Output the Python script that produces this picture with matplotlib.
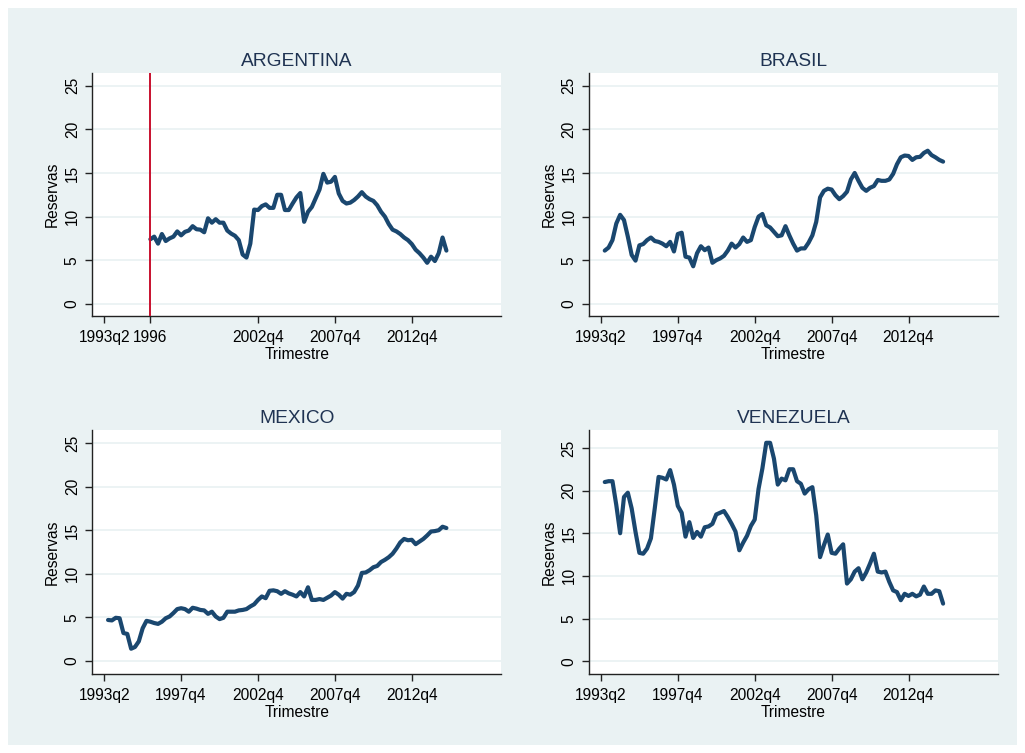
import numpy as np
import matplotlib.pyplot as plt
from matplotlib.patches import Rectangle

plt.rcParams['font.family'] = ['Liberation Sans', 'DejaVu Sans']

# Reservas por trimestre (trimestre 1 = primero despues de 1993q2)
argentina = [7.4, 7.7, 6.9, 8.0, 7.2, 7.5, 7.7, 8.3, 7.85, 8.25,
             8.4, 8.9, 8.55, 8.5, 8.2, 9.8, 9.3, 9.7, 9.3, 9.3,
             8.4, 8.05, 7.8, 7.3, 5.65, 5.3, 6.9, 10.8, 10.75, 11.2,
             11.4, 11.0, 11.0, 12.5, 12.5, 10.75, 10.75, 11.5, 12.2, 12.7,
             9.4, 10.55, 11.1, 12.1, 13.1, 14.9, 13.9, 14.0, 14.55, 12.65,
             11.8, 11.5, 11.6, 11.9, 12.3, 12.8, 12.3, 12.0, 11.8, 11.3,
             10.55, 10.0, 9.15, 8.5, 8.3, 8.0, 7.6, 7.3, 6.85, 6.2,
             5.8, 5.3, 4.7, 5.4, 4.9, 5.8, 7.6, 6.1]
argentina_ini = 12   # 1996

brasil = [6.1, 6.45, 7.3, 9.2, 10.2, 9.6, 7.7, 5.6, 4.95, 6.7,
          6.85, 7.3, 7.6, 7.2, 7.1, 6.9, 6.6, 7.1, 6.0, 8.0,
          8.15, 5.4, 5.3, 4.3, 5.8, 6.6, 6.15, 6.45, 4.7, 5.0,
          5.2, 5.5, 6.1, 6.9, 6.45, 6.85, 7.6, 7.1, 7.3, 8.8,
          10.0, 10.3, 9.0, 8.75, 8.25, 7.75, 7.85, 8.9, 7.85, 6.9,
          6.1, 6.35, 6.35, 7.0, 7.85, 9.4, 12.2, 12.95, 13.2, 13.1,
          12.45, 12.0, 12.35, 12.85, 14.25, 15.0, 14.1, 13.3, 12.95, 13.3,
          13.5, 14.2, 14.1, 14.1, 14.25, 14.9, 16.0, 16.8, 17.0, 16.95,
          16.5, 16.8, 16.85, 17.3, 17.55, 17.05, 16.8, 16.5, 16.3]

mexico = [4.7, 4.65, 4.95, 4.9, 3.2, 3.1, 1.4, 1.6, 2.25, 3.75,
          4.6, 4.5, 4.35, 4.25, 4.5, 4.9, 5.1, 5.5, 5.95, 6.05,
          5.95, 5.65, 6.1, 6.0, 5.85, 5.8, 5.4, 5.65, 5.1, 4.8,
          4.95, 5.65, 5.65, 5.65, 5.8, 5.85, 5.95, 6.25, 6.5, 7.0,
          7.4, 7.2, 8.05, 8.1, 8.0, 7.7, 8.0, 7.75, 7.6, 7.4,
          7.9, 7.4, 8.45, 7.0, 7.0, 7.1, 7.0, 7.25, 7.5, 7.9,
          7.6, 7.15, 7.7, 7.6, 7.9, 8.65, 10.1, 10.15, 10.4, 10.75,
          10.9, 11.35, 11.6, 11.9, 12.3, 12.9, 13.6, 14.0, 13.85, 13.9,
          13.4, 13.7, 14.0, 14.4, 14.85, 14.9, 15.0, 15.4, 15.25]

venezuela = [21.0, 21.1, 21.1, 18.3, 15.0, 19.25, 19.75, 17.9, 15.15, 12.7,
             12.6, 13.2, 14.4, 17.9, 21.6, 21.5, 21.3, 22.4, 20.7, 18.2,
             17.4, 14.6, 16.3, 14.45, 15.15, 14.6, 15.7, 15.8, 16.1, 17.2,
             17.4, 17.6, 16.9, 16.1, 15.2, 13.0, 13.9, 14.7, 15.85, 16.6,
             20.2, 22.6, 25.6, 25.6, 23.75, 20.7, 21.4, 21.2, 22.5, 22.5,
             21.1, 20.8, 19.65, 20.15, 20.4, 17.1, 12.2, 13.6, 14.85, 12.7,
             12.6, 13.2, 13.7, 9.1, 9.6, 10.5, 10.9, 9.6, 10.4, 11.45,
             12.6, 10.5, 10.4, 10.5, 9.3, 8.3, 8.1, 7.15, 7.9, 7.65,
             7.9, 7.6, 7.8, 8.75, 7.9, 7.9, 8.3, 8.2, 6.75]

xticks_std = [0, 20, 40, 60, 80]
xlabels_std = ['1993q2', '1997q4', '2002q4', '2007q4', '2012q4']
xticks_arg = [0, 12, 40, 60, 80]
xlabels_arg = ['1993q2', '1996', '2002q4', '2007q4', '2012q4']
yticks = [0, 5, 10, 15, 20, 25]

W, H = 1025, 753
fig = plt.figure(figsize=(W / 100, H / 100), dpi=100, facecolor='white')
fig.patches.append(Rectangle((8 / W, 8 / H), (W - 16) / W, (H - 16) / H,
                             transform=fig.transFigure, facecolor='#EAF2F3',
                             edgecolor='none', zorder=-10))


def rect(l, t, r, b):
    return [l / W, 1 - b / H, (r - l) / W, (b - t) / H]


navy = '#1A476F'
panels = [
    ('ARGENTINA', argentina, argentina_ini, rect(92.3, 72.7, 501, 316), xticks_arg, xlabels_arg, (-1.4, 26.5)),
    ('BRASIL', brasil, 1, rect(589, 72.7, 997.7, 316), xticks_std, xlabels_std, (-1.4, 26.5)),
    ('MEXICO', mexico, 1, rect(92.3, 430, 501, 674), xticks_std, xlabels_std, (-1.5, 26.5)),
    ('VENEZUELA', venezuela, 1, rect(589, 430, 997.7, 674), xticks_std, xlabels_std, (-1.5, 27.1)),
]

for name, vals, ini, pos, xt, xl, ylim in panels:
    ax = fig.add_axes(pos, zorder=1)
    ax.set_facecolor('white')
    x = np.arange(ini, ini + len(vals))
    ax.plot(x, vals, color=navy, lw=3.0, solid_joinstyle='round', solid_capstyle='round', zorder=3)
    if name == 'ARGENTINA':
        ax.axvline(argentina_ini, color='#C8102E', lw=1.4, zorder=4)
    ax.set_xlim(-3.1, 103.2)
    ax.set_ylim(*ylim)
    ax.set_yticks(yticks)
    ax.set_xticks(xt)
    ax.set_xticklabels(xl)
    for yv in yticks:
        ax.axhline(yv, color='#EAF2F3', lw=1.3, zorder=1)
    for s in ['top', 'right']:
        ax.spines[s].set_visible(False)
    for s in ['left', 'bottom']:
        ax.spines[s].set_color('#222222')
        ax.spines[s].set_linewidth(1.0)
    ax.tick_params(axis='both', length=5, width=1.0, color='#222222', labelsize=11.2, labelcolor='black')
    ax.tick_params(axis='x', pad=5.2)
    ax.tick_params(axis='y', pad=4)
    plt.setp(ax.get_yticklabels(), rotation=90, va='center')
    ax.set_xlabel('Trimestre', fontsize=11.2, labelpad=1.0)
    ax.set_ylabel('Reservas', fontsize=11.2, labelpad=3.5)
    ax.set_title(name, fontsize=13.8, color='#1F3352', pad=4.8)

fig.savefig('out.png', dpi=100, facecolor=fig.get_facecolor())
